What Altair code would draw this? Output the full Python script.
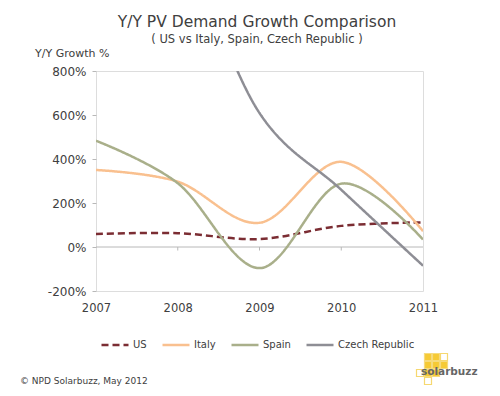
import altair as alt
import pandas as pd

years = [2007, 2008, 2009, 2010, 2011]
us = [59, 63, 36, 96, 112]
italy = [350, 297, 110, 387, 72]
spain = [483, 290, -96, 288, 34]
czech = [1600, 1375, 609, 260, -85]
series = ["US", "Italy", "Spain", "Czech Republic"]
colors = ["#7B2D33", "#F9C08F", "#A9AF8A", "#8E8E95"]
dashes = [[7, 4], [1, 0], [1, 0], [1, 0]]
y_ticks = [-200, 0, 200, 400, 600, 800]
inner_ticks = [2008, 2009, 2010]

title_text = "Y/Y PV Demand Growth Comparison"
subtitle_text = "( US vs Italy, Spain, Czech Republic )"
ytitle_text = "Y/Y Growth %"
footer_text = "© NPD Solarbuzz, May 2012"
logo_text = "solarbuzz"

rows = []
for name, vals in zip(series, [us, italy, spain, czech]):
    for yr, v in zip(years, vals):
        rows.append({"year": yr, "growth": v, "series": name})
df = pd.DataFrame(rows)

GRID = "#B8B8B8"
TXT = "#404040"
FONT = "DejaVu Sans"

xscale = alt.Scale(domain=[2007, 2011], nice=False, zero=False)
yscale = alt.Scale(domain=[-200, 800], nice=False, zero=False)

leg = alt.Legend(orient="none", legendX=4, legendY=259, direction="horizontal",
                 title=None, symbolType="stroke", symbolSize=729,
                 symbolStrokeWidth=2.5, labelFontSize=10, labelColor=TXT,
                 labelFont=FONT, labelOffset=3, columnPadding=10, padding=0)

lines = alt.Chart(df).mark_line(interpolate="cardinal", strokeWidth=2.5, clip=True).encode(
    x=alt.X("year:Q", scale=xscale,
            axis=alt.Axis(values=years, format="d", title=None, domain=False,
                          ticks=False, grid=False, labelPadding=11, labelFlush=False,
                          labelOverlap=False,
                          labelFontSize=11.5, labelColor=TXT, labelFont=FONT)),
    y=alt.Y("growth:Q", scale=yscale,
            axis=alt.Axis(values=y_ticks, title=None, domain=False, grid=False,
                          tickSize=4, tickColor=GRID, labelPadding=6,
                          labelFontSize=12, labelColor=TXT, labelFont=FONT,
                          labelExpr="datum.value + '%'")),
    color=alt.Color("series:N", scale=alt.Scale(domain=series, range=colors), legend=leg),
    strokeDash=alt.StrokeDash("series:N", scale=alt.Scale(domain=series, range=dashes), legend=leg),
    order=alt.Order("year:Q"),
)

zero = alt.Chart(pd.DataFrame({"y": [0]})).mark_rule(color=GRID, strokeWidth=1).encode(
    y=alt.Y("y:Q", scale=yscale))

xt = alt.Chart(pd.DataFrame({"year": inner_ticks})).mark_rule(color=GRID, strokeWidth=1).encode(
    x=alt.X("year:Q", scale=xscale), y=alt.datum(0), y2=alt.datum(-16))

def txt(s, x, y, size, align="center", color=TXT, weight="normal"):
    return alt.Chart(pd.DataFrame({"t": [s]})).mark_text(
        align=align, baseline="alphabetic", fontSize=size, font=FONT,
        color=color, fontWeight=weight).encode(
        text="t:N", x=alt.value(x), y=alt.value(y))

title = txt(title_text, 161, -44, 15.5)
subtitle = txt(subtitle_text, 161, -28, 11.5)
ytitle = txt(ytitle_text, -61, -14, 11, align="left")
footer = txt(footer_text, -76, 313, 9, align="left")

sq = []
logo_sq = [(332, 286, True), (340, 286, True), (348, 286, False), (332, 294, True),
           (340, 294, True), (348, 294, True), (324, 302, False), (332, 302, True),
           (340, 302, True), (332, 310, False)]
for (lx, ly, filled) in logo_sq:
    sq.append(alt.Chart(pd.DataFrame({"a": [0]})).mark_square(
        size=49, filled=filled, color="#F6C520", stroke="#F6D870", strokeWidth=1.2,
        opacity=0.9 if filled else 1).encode(x=alt.value(lx), y=alt.value(ly)))
logo = txt(logo_text, 325, 304, 10.5, align="left", color="#666666", weight="bold")

chart = alt.layer(zero, xt, lines, *sq, logo, title, subtitle, ytitle, footer).properties(
    width=327, height=220,
    autosize=alt.AutoSizeParams(type="none"),
    padding={"left": 88, "top": 63, "right": 69, "bottom": 97},
).configure_view(stroke=GRID, strokeWidth=1).configure(background="white")

chart.save("out.html", embed_options={"renderer": "svg", "actions": False})
